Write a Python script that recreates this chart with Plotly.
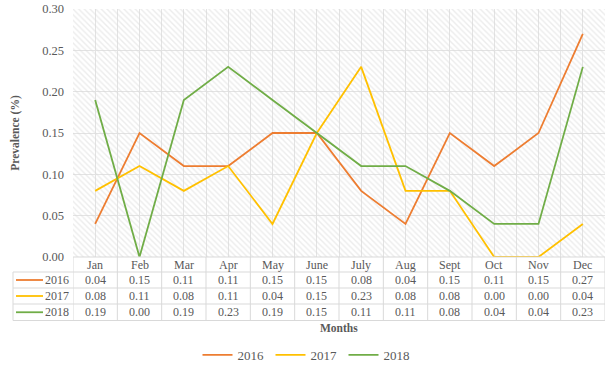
import plotly.graph_objects as go

months = ["Jan", "Feb", "Mar", "Apr", "May", "June", "July", "Aug", "Sept", "Oct", "Nov", "Dec"]
years = ["2016", "2017", "2018"]
v2016 = [0.04, 0.15, 0.11, 0.11, 0.15, 0.15, 0.08, 0.04, 0.15, 0.11, 0.15, 0.27]
v2017 = [0.08, 0.11, 0.08, 0.11, 0.04, 0.15, 0.23, 0.08, 0.08, 0.00, 0.00, 0.04]
v2018 = [0.19, 0.00, 0.19, 0.23, 0.19, 0.15, 0.11, 0.11, 0.08, 0.04, 0.04, 0.23]
series = [v2016, v2017, v2018]
colors = ["#ED7D31", "#FFC000", "#70AD47"]

W, H = 614, 366
L, R, T, B = 73, 9, 9, 109
PW, PH = W - L - R, H - T - B
FONT = "Liberation Serif"
GREY = "#595959"
BORDER = "#d9d9d9"

def px(xp):
    return (xp - L) / PW

def py(yp):
    return (H - B - yp) / PH

n = len(months)
xs = list(range(n))
fig = go.Figure()

fig.add_trace(go.Scatter(
    x=[-0.5, n - 0.5, n - 0.5, -0.5, -0.5], y=[0, 0, 0.3, 0.3, 0],
    mode="lines", line=dict(width=0), fill="toself",
    fillcolor="rgba(0,0,0,0)",
    fillpattern=dict(shape="\\", fgcolor="#d9d9d9", bgcolor="rgba(0,0,0,0)",
                     size=4, solidity=0.35, fillmode="overlay"),
    hoverinfo="skip", showlegend=False))

for name, vals, c in zip(years, series, colors):
    fig.add_trace(go.Scatter(x=xs, y=vals, mode="lines", name=name,
                             line=dict(color=c, width=1.8)))

shapes = []
ann = []
row_tops = [257, 272, 288, 304, 320.5]
for yl in row_tops[1:]:
    shapes.append(dict(type="line", xref="paper", yref="paper",
                       x0=px(13), x1=px(W - R), y0=py(yl), y1=py(yl),
                       line=dict(color=BORDER, width=1)))
shapes.append(dict(type="line", xref="paper", yref="paper",
                   x0=0, x1=1, y0=0, y1=0, line=dict(color=BORDER, width=1)))
for k in range(n + 1):
    xl = k - 0.5
    shapes.append(dict(type="line", xref="x", yref="paper",
                       x0=xl, x1=xl, y0=py(row_tops[0]), y1=py(row_tops[-1]),
                       line=dict(color=BORDER, width=1)))
shapes.append(dict(type="line", xref="paper", yref="paper",
                   x0=px(13), x1=px(13), y0=py(row_tops[1]), y1=py(row_tops[-1]),
                   line=dict(color=BORDER, width=1)))

for i, m in enumerate(months):
    ann.append(dict(x=i, y=py((row_tops[0] + row_tops[1]) / 2), xref="x", yref="paper",
                    text=m, showarrow=False, font=dict(family=FONT, size=12, color=GREY),
                    xanchor="center", yanchor="middle"))
for r, (name, vals, c) in enumerate(zip(years, series, colors)):
    yc = py((row_tops[r + 1] + row_tops[r + 2]) / 2)
    shapes.append(dict(type="line", xref="paper", yref="paper",
                       x0=px(16), x1=px(43), y0=yc, y1=yc, line=dict(color=c, width=1.8)))
    ann.append(dict(x=px(71), y=yc, xref="paper", yref="paper", text=name,
                    showarrow=False, xanchor="right", yanchor="middle",
                    font=dict(family=FONT, size=12, color=GREY)))
    for i, v in enumerate(vals):
        ann.append(dict(x=i, y=yc, xref="x", yref="paper", text=f"{v:.2f}",
                        showarrow=False, xanchor="center", yanchor="middle",
                        font=dict(family=FONT, size=12, color=GREY)))

ann.append(dict(x=0.5, y=py(328), xref="paper", yref="paper", text="<b>Months</b>",
                showarrow=False, xanchor="center", yanchor="middle",
                font=dict(family=FONT, size=11.5, color=GREY)))

fig.update_layout(
    width=W, height=H, margin=dict(l=L, r=R, t=T, b=B, autoexpand=False),
    paper_bgcolor="white", plot_bgcolor="white",
    font=dict(family=FONT, color=GREY),
    shapes=shapes, annotations=ann,
    showlegend=True,
    legend=dict(orientation="h", xref="container", yref="container",
                x=0.5, xanchor="center", y=1 - 355 / H, yanchor="middle",
                font=dict(family=FONT, size=13, color=GREY),
                entrywidth=28, entrywidthmode="pixels",
                tracegroupgap=0),
    xaxis=dict(range=[-0.5, n - 0.5], tick0=-0.5, dtick=0.5, showticklabels=False,
               showgrid=True, gridcolor="#e3e3e3", zeroline=False, ticks="",
               showline=False, fixedrange=True, automargin=False),
    yaxis=dict(range=[0, 0.3], dtick=0.05, tickformat=".2f", showgrid=True,
               gridcolor="#e3e3e3", zeroline=False, ticks="", showline=False,
               automargin=False, ticklabelstandoff=8,
               tickfont=dict(family=FONT, size=12.5, color=GREY),
               title=dict(text="<b>Prevalence (%)</b>", standoff=20,
                          font=dict(family=FONT, size=11.5, color=GREY))),
)

fig.write_html("out.html", config={"displayModeBar": False},
               post_script="document.body.style.margin='0';document.body.style.overflow='hidden';")
